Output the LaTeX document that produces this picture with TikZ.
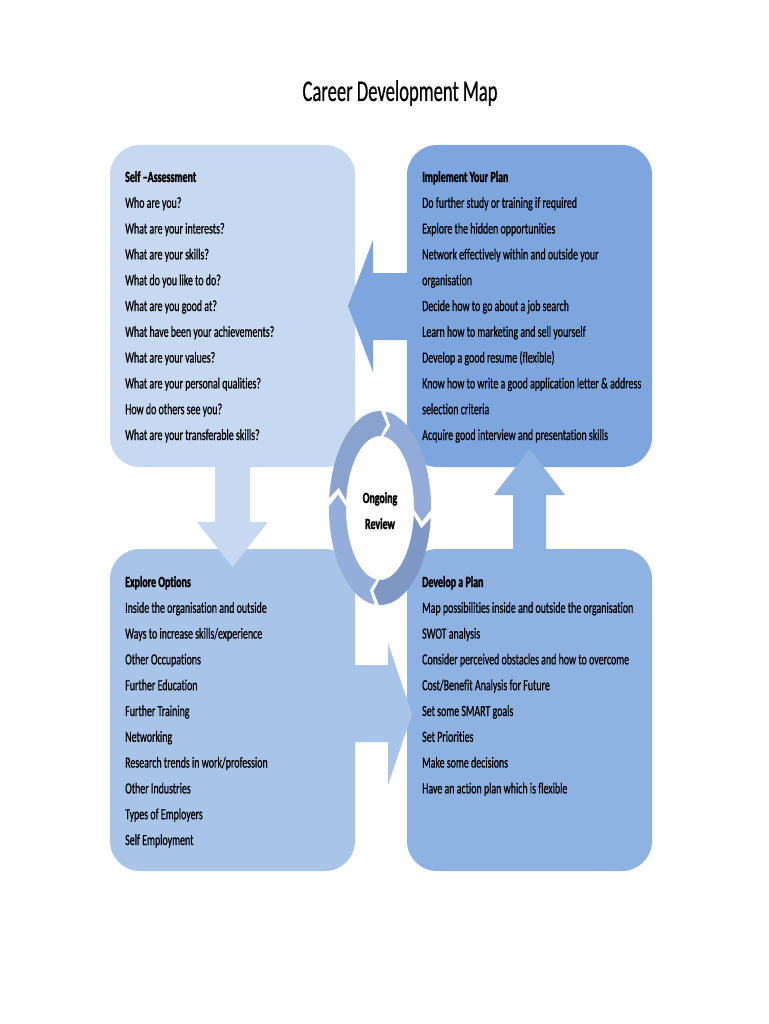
\documentclass[tikz,border=0pt]{standalone}
\usepackage{fontspec}
\newfontfamily\bodyfont[FakeStretch=0.64, FakeBold=0.7, Ligatures=NoCommon]{Carlito}
\newfontfamily\headfont[FakeStretch=0.64, FakeBold=1.6, Ligatures=NoCommon]{Carlito}
\newfontfamily\titlefont[FakeStretch=0.62, FakeBold=0.5, Ligatures=NoCommon]{Carlito}
\definecolor{selfc}{HTML}{C6D9F1}
\definecolor{implc}{HTML}{7CA6DD}
\definecolor{explc}{HTML}{A8C5E9}
\definecolor{devc}{HTML}{8EB3E3}
\definecolor{ringa}{HTML}{8AA2CE}
\definecolor{ringb}{HTML}{93ABD8}
\definecolor{ringc}{HTML}{7F97C4}
\definecolor{ringd}{HTML}{94AEDB}

\begin{document}
\begin{tikzpicture}[x=1pt, y=-1pt,
	box/.style={rounded corners=30pt, minimum width=245pt, minimum height=322pt, inner sep=0pt},
	item/.style={anchor=base west, inner sep=0pt, font=\bodyfont\fontsize{15.5}{18}\selectfont},
	headline/.style={item, font=\headfont\bfseries\fontsize{15.5}{18}\selectfont}]
	\useasboundingbox (0,0) rectangle (768,1024);
	\fill[white] (0,0) rectangle (768,1024);
	\node[font=\titlefont\fontsize{30}{36}\selectfont, anchor=base, inner sep=0pt] (title) at (400,101) {Career Development Map};
	% the four boxes
	\node[box, fill=selfc] (self) at (232.5,306) {};
	\node[box, fill=implc] (impl) at (529.5,306) {};
	\node[box, fill=explc] (expl) at (232.5,710) {};
	\node[box, fill=devc] (dev) at (529.5,710) {};
	% block arrows between the boxes
	\fill[implc] (impl.west |- 0,273) -- (373,273) -- (373,240) -- (348,306) -- (373,372) -- (373,340) -- (impl.west |- 0,340) -- cycle;
	\fill[selfc] (215,467) -- (215,522) -- (197,522) -- (232.5,567) -- (268,522) -- (250,522) -- (250,467) -- cycle;
	\fill[explc] (expl.east |- 0,665) -- (388,665) -- (388,643) -- (412,714) -- (388,785) -- (388,742) -- (expl.east |- 0,742) -- cycle;
	\fill[devc] (513,550) -- (513,495) -- (494,495) -- (529.5,449) -- (565,495) -- (546,495) -- (546,550) -- cycle;
	% texts
	\node[headline] (self-0) at (125,182) {Self –Assessment};
	\foreach \t [count=\i] in {Who are you?, What are your interests?, What are your skills?,
		What do you like to do?, What are you good at?, What have been your achievements?,
		What are your values?, What are your personal qualities?, How do others see you?,
		What are your transferable skills?}
		\node[item] (self-\i) at (125,{182+25.8*\i}) {\t};
	\node[headline] (impl-0) at (422,182) {Implement Your Plan};
	\foreach \t [count=\i] in {Do further study or training if required, Explore the hidden opportunities,
		Network effectively within and outside your, organisation, Decide how to go about a job search,
		Learn how to marketing and sell yourself, Develop a good resume (flexible),
		Know how to write a good application letter \& address, selection criteria,
		Acquire good interview and presentation skills}
		\node[item] (impl-\i) at (422,{182+25.8*\i}) {\t};
	\node[headline] (expl-0) at (125,587) {Explore Options};
	\foreach \t [count=\i] in {Inside the organisation and outside, Ways to increase skills/experience,
		Other Occupations, Further Education, Further Training, Networking,
		Research trends in work/profession, Other Industries, Types of Employers, Self Employment}
		\node[item] (expl-\i) at (125,{587+25.8*\i}) {\t};
	\node[headline] (dev-0) at (422,587) {Develop a Plan};
	\foreach \t [count=\i] in {Map possibilities inside and outside the organisation, SWOT analysis,
		Consider perceived obstacles and how to overcome, Cost/Benefit Analysis for Future,
		Set some SMART goals, Set Priorities, Make some decisions, Have an action plan which is flexible}
		\node[item] (dev-\i) at (422,{587+25.8*\i}) {\t};
	% review cycle
	\begin{scope}[shift={(380,508)}]
		\foreach \g/\c in {5/ringc, 95/ringd, 185/ringa, 275/ringb}
			\fill[\c] (\g+1:51 and 97) arc[start angle=\g+1, end angle=\g+86, x radius=51, y radius=97]
				-- (\g+94:42.5 and 84.5) -- (\g+86:34 and 72)
				arc[start angle=\g+86, end angle=\g+1, x radius=34, y radius=72]
				-- (\g+9:42.5 and 84.5) -- cycle;
	\end{scope}
	\node[font=\headfont\bfseries\fontsize{15.5}{18}\selectfont, anchor=base, inner sep=0pt] (ongoing) at (380,503) {Ongoing};
	\node[font=\headfont\bfseries\fontsize{15.5}{18}\selectfont, anchor=base, inner sep=0pt] (review) at (380,529) {Review};
\end{tikzpicture}
\end{document}
